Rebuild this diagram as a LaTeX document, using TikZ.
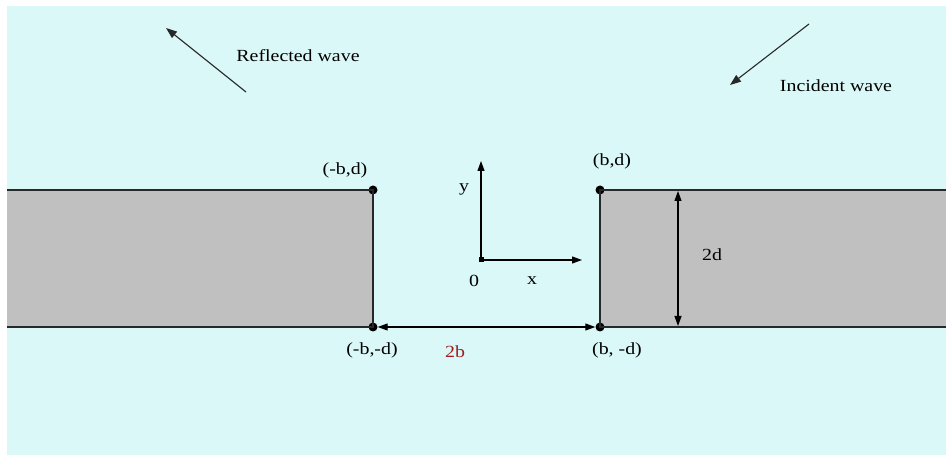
\documentclass[tikz,border=0pt]{standalone}
\usepackage{fontspec}
\setmainfont{Liberation Serif}
\usetikzlibrary{arrows.meta}
\definecolor{bgcyan}{RGB}{219,248,248}
\definecolor{blockgray}{RGB}{192,192,192}
\definecolor{edgegray}{RGB}{40,40,40}
\definecolor{labelred}{RGB}{160,30,30}
\newcommand{\lbl}[1]{\scalebox{1.17}[1]{#1}}
\tikzset{
  lab/.style={inner sep=0pt, font=\fontsize{17}{19}\selectfont, text=black},
  corner/.style={circle, fill=black, inner sep=0pt, minimum size=9pt},
  blockedge/.style={draw=edgegray, line width=1.4pt},
  dim/.style={line width=1.1pt, {Triangle[length=10pt,width=7pt]}-{Triangle[length=10pt,width=7pt]}},
  axis/.style={line width=1.1pt, -{Triangle[length=10pt,width=7pt]}},
  wave/.style={draw=edgegray, line width=1.1pt, -{Triangle[length=11pt,width=8pt]}}
}
\begin{document}
\begin{tikzpicture}[x=1pt,y=-1pt]
\useasboundingbox (0,0) rectangle (946,457);
\fill[white] (0,0) rectangle (946,457);
\fill[bgcyan] (7,6) rectangle (946,455);
% blocks
\fill[blockgray] (7,190) rectangle (373,327);
\fill[blockgray] (600,190) rectangle (946,327);
% corner points
\node[corner] (LT) at (373,190) {};
\node[corner] (LB) at (373,327) {};
\node[corner] (RT) at (600,190) {};
\node[corner] (RB) at (600,327) {};
\coordinate (LTend) at (7,190);
\coordinate (LBend) at (7,327);
\coordinate (RTend) at (946,190);
\coordinate (RBend) at (946,327);
\draw[blockedge] (LTend) -- (LT.center) -- (LB.center) -- (LBend);
\draw[blockedge] (RTend) -- (RT.center) -- (RB.center) -- (RBend);
% 2b dimension
\draw[dim] (LB.east) -- (RB.west);
% 2d dimension
\coordinate (DT) at (678,191);
\coordinate (DB) at (678,326);
\draw[dim] (DT) -- (DB);
% axes
\node[rectangle, fill=black, inner sep=0pt, minimum size=5pt] (O) at (481,260) {};
\coordinate (Y) at (481,161);
\coordinate (X) at (582,260);
\draw[axis] (O.center) -- (Y);
\draw[axis] (O.center) -- (X);
% waves
\coordinate (R1) at (246,92);
\coordinate (R2) at (166,28);
\draw[wave] (R1) -- (R2);
\coordinate (I1) at (809,24);
\coordinate (I2) at (730,85);
\draw[wave] (I1) -- (I2);
% labels
\node[lab] (tR) at (298,56) {\lbl{Reflected wave}};
\node[lab] (tI) at (836,86) {\lbl{Incident wave}};
\node[lab] (tLT) at (345,170) {\lbl{(-b,d)}};
\node[lab] (tLB) at (372,350) {\lbl{(-b,-d)}};
\node[lab] (tRT) at (612,161) {\lbl{(b,d)}};
\node[lab] (tRB) at (617,350) {\lbl{(b, -d)}};
\node[lab, text=labelred] (t2b) at (455,352) {\lbl{2b}};
\node[lab] (t2d) at (712,255) {\lbl{2d}};
\node[lab] (ty) at (464,189) {\lbl{y}};
\node[lab] (t0) at (474,281) {\lbl{0}};
\node[lab] (tx) at (532,281) {\lbl{x}};
\end{tikzpicture}
\end{document}
